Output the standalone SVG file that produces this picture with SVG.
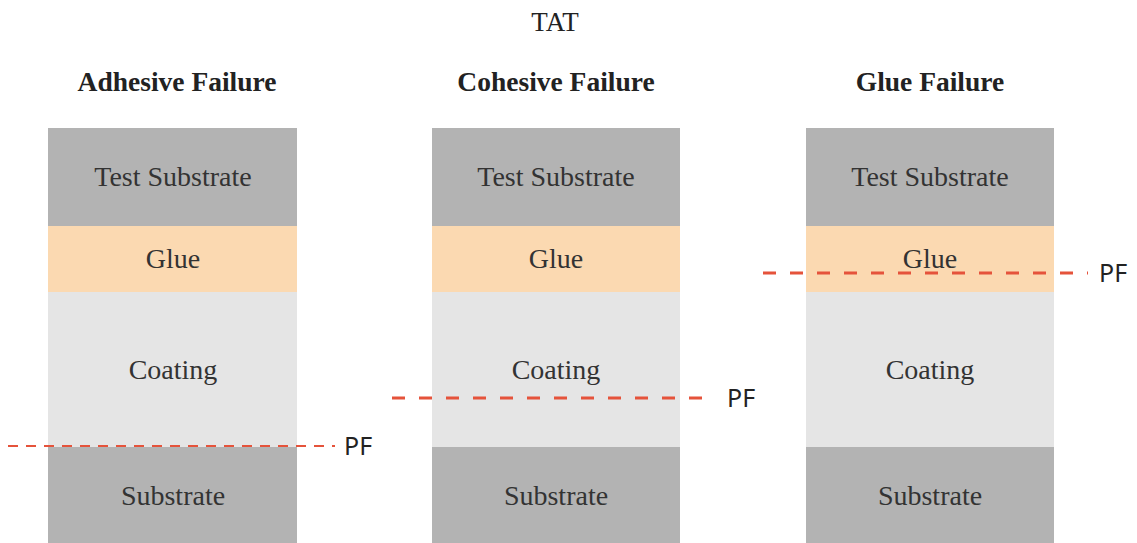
<svg xmlns="http://www.w3.org/2000/svg" width="1137" height="543" viewBox="0 0 1137 543">
<style>
.sub{fill:#b3b3b3}
.glue{fill:#fbd9b1}
.coat{fill:#e5e5e5}
.lbl{font-family:"Liberation Serif",serif;font-size:28px;fill:#333;text-anchor:middle}
.hd{font-family:"Liberation Serif",serif;font-size:27.5px;font-weight:bold;fill:#222;text-anchor:middle}
.ttl{font-family:"Liberation Serif",serif;font-size:27px;fill:#222;text-anchor:middle}
.pf{font-family:"Noto Sans",sans-serif;font-size:25px;fill:#222}
.thin{stroke:#e5533b;stroke-width:2;stroke-dasharray:10 8;fill:none}
.thick{stroke:#e5533b;stroke-width:3;stroke-dasharray:13 14;fill:none}
</style>
<rect width="1137" height="543" fill="#fff"/>
<text class="ttl" x="555" y="31">TAT</text>
<g id="adhesive">
<text class="hd" x="177" y="91">Adhesive Failure</text>
<rect class="sub" x="48" y="128" width="249" height="98"/>
<rect class="glue" x="48" y="226" width="249" height="66"/>
<rect class="coat" x="48" y="292" width="249" height="155"/>
<rect class="sub" x="48" y="447" width="249" height="96"/>
<text class="lbl" x="173" y="186">Test Substrate</text>
<text class="lbl" x="173" y="268">Glue</text>
<text class="lbl" x="173" y="379">Coating</text>
<text class="lbl" x="173" y="505">Substrate</text>
</g>
<g id="cohesive">
<text class="hd" x="556" y="91">Cohesive Failure</text>
<rect class="sub" x="432" y="128" width="248" height="98"/>
<rect class="glue" x="432" y="226" width="248" height="66"/>
<rect class="coat" x="432" y="292" width="248" height="155"/>
<rect class="sub" x="432" y="447" width="248" height="96"/>
<text class="lbl" x="556" y="186">Test Substrate</text>
<text class="lbl" x="556" y="268">Glue</text>
<text class="lbl" x="556" y="379">Coating</text>
<text class="lbl" x="556" y="505">Substrate</text>
</g>
<g id="glue">
<text class="hd" x="930" y="91">Glue Failure</text>
<rect class="sub" x="806" y="128" width="248" height="98"/>
<rect class="glue" x="806" y="226" width="248" height="66"/>
<rect class="coat" x="806" y="292" width="248" height="155"/>
<rect class="sub" x="806" y="447" width="248" height="96"/>
<text class="lbl" x="930" y="186">Test Substrate</text>
<text class="lbl" x="930" y="268">Glue</text>
<text class="lbl" x="930" y="379">Coating</text>
<text class="lbl" x="930" y="505">Substrate</text>
</g>
<g id="connectors">
<line class="thin" x1="8" y1="446" x2="335" y2="446"/>
<text class="pf" x="344" y="455">PF</text>
<line class="thick" x1="392" y1="398" x2="714" y2="398"/>
<text class="pf" x="727" y="407">PF</text>
<line class="thick" x1="763" y1="273" x2="1088" y2="273"/>
<text class="pf" x="1099" y="282">PF</text>
</g>
</svg>
